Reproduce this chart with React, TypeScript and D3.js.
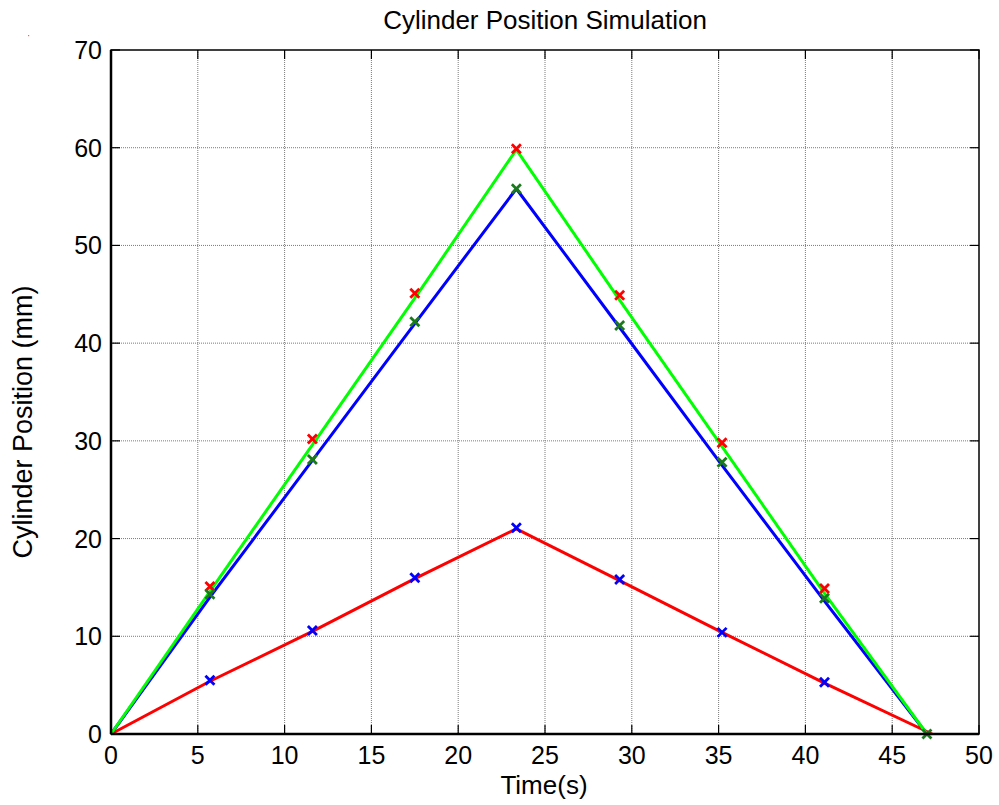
import React from "react";
import * as d3 from "d3";

const xTicks = [0, 5, 10, 15, 20, 25, 30, 35, 40, 45, 50];
const yTicks = [0, 10, 20, 30, 40, 50, 60, 70];

const lineTimes = [0, 5.7, 11.6, 17.5, 23.35, 29.3, 35.2, 41.1, 47.0];
const greenLine = [0, 14.6, 29.6, 44.6, 59.8, 44.4, 29.4, 14.4, 0];
const blueLine = [0, 14.0, 28.0, 42.0, 55.8, 41.6, 27.5, 13.6, 0];
const redTimes = [0, 5.7, 11.6, 17.5, 23.35, 29.3, 35.2, 41.1, 47.3];
const redLine = [0, 5.4, 10.5, 15.9, 21.0, 15.7, 10.4, 5.2, 0];

const markerTimes = [5.7, 11.6, 17.5, 23.35, 29.3, 35.2, 41.1];
const redMarkers = [15.1, 30.2, 45.1, 59.9, 44.9, 29.8, 14.9];
const darkGreenTimes = [5.7, 11.6, 17.5, 23.35, 29.3, 35.2, 41.1, 47.0];
const darkGreenMarkers = [14.3, 28.1, 42.2, 55.8, 41.8, 27.8, 13.9, 0];
const blueMarkers = [5.5, 10.6, 16.0, 21.1, 15.8, 10.4, 5.3];

const W = 999, H = 805;
const L = 111, R = 979, T = 50, B = 734;
const font = "'Liberation Sans', Arial, Helvetica, sans-serif";

export default function App() {
  const x = d3.scaleLinear().domain([0, 50]).range([L, R]);
  const y = d3.scaleLinear().domain([0, 70]).range([B, T]);
  const line = d3.line<[number, number]>().x(d => x(d[0])).y(d => y(d[1]));
  const pts = (ts: number[], vs: number[]) => ts.map((t, i) => [t, vs[i]] as [number, number]);

  const cross = (cx: number, cy: number, color: string, key: string) => (
    <g key={key} stroke={color} strokeWidth={2.8}>
      <line x1={cx - 4.5} y1={cy - 4.5} x2={cx + 4.5} y2={cy + 4.5} />
      <line x1={cx - 4.5} y1={cy + 4.5} x2={cx + 4.5} y2={cy - 4.5} />
    </g>
  );

  return (
    <svg width={W} height={H} style={{ position: "absolute", left: 0, top: 0, background: "#fff" }}>
      <rect x={0} y={0} width={W} height={H} fill="#fff" />
      <rect x={28} y={35} width={1.2} height={1.2} fill="#ff6060" />
      {xTicks.slice(1, -1).map(t => (
        <line key={"gx" + t} x1={x(t)} x2={x(t)} y1={T} y2={B} stroke="#7a7a7a" strokeWidth={1} strokeDasharray="1,1" />
      ))}
      {yTicks.slice(1, -1).map(t => (
        <line key={"gy" + t} x1={L} x2={R} y1={y(t)} y2={y(t)} stroke="#7a7a7a" strokeWidth={1} strokeDasharray="1,1" />
      ))}
      {xTicks.map(t => (
        <g key={"tx" + t}>
          <line x1={x(t)} x2={x(t)} y1={B} y2={B - 9} stroke="#000" strokeWidth={1.2} />
          <line x1={x(t)} x2={x(t)} y1={T} y2={T + 9} stroke="#000" strokeWidth={1.2} />
          <text x={x(t)} y={B + 30} textAnchor="middle" fontFamily={font} fontSize={25} fill="#000">{t}</text>
        </g>
      ))}
      {yTicks.map(t => (
        <g key={"ty" + t}>
          <line x1={L} x2={L + 9} y1={y(t)} y2={y(t)} stroke="#000" strokeWidth={1.2} />
          <line x1={R} x2={R - 9} y1={y(t)} y2={y(t)} stroke="#000" strokeWidth={1.2} />
          <text x={L - 9} y={y(t) + 9} textAnchor="end" fontFamily={font} fontSize={25} fill="#000">{t}</text>
        </g>
      ))}
      <path d={line(pts(redTimes, redLine)) || ""} fill="none" stroke="#ff0000" strokeWidth={3} strokeLinejoin="round" />
      <path d={line(pts(lineTimes, blueLine)) || ""} fill="none" stroke="#0000ff" strokeWidth={3} strokeLinejoin="round" />
      <path d={line(pts(lineTimes, greenLine)) || ""} fill="none" stroke="#00ff00" strokeWidth={3} strokeLinejoin="round" />
      {markerTimes.map((t, i) => cross(x(t), y(redMarkers[i]), "#ff0000", "rm" + i))}
      {darkGreenTimes.map((t, i) => cross(x(t), y(darkGreenMarkers[i]), "#1b7a1b", "gm" + i))}
      {markerTimes.map((t, i) => cross(x(t), y(blueMarkers[i]), "#0000ff", "bm" + i))}
      <rect x={L} y={T} width={R - L} height={B - T} fill="none" stroke="#000" strokeWidth={1.5} />
      <line x1={L} x2={R} y1={B} y2={B} stroke="#000" strokeWidth={2.5} />
      <line x1={L} x2={L} y1={T} y2={B} stroke="#000" strokeWidth={2.5} />
      <text x={545} y={29} textAnchor="middle" fontFamily={font} fontSize={26} fill="#000">Cylinder Position Simulation</text>
      <text x={544} y={794} textAnchor="middle" fontFamily={font} fontSize={26} fill="#000">Time(s)</text>
      <text transform={`translate(32, 422) rotate(-90)`} textAnchor="middle" fontFamily={font} fontSize={27} fill="#000">Cylinder Position (mm)</text>
    </svg>
  );
}
